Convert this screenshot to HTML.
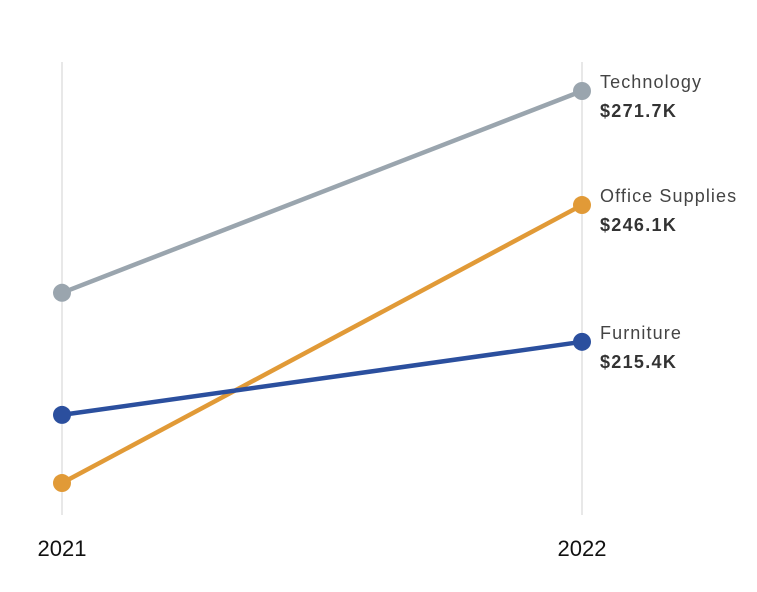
<!DOCTYPE html>
<html><head><meta charset="utf-8"><style>
body{margin:0;background:#fff;}
svg{display:block;font-family:"Liberation Sans",sans-serif;}
</style></head><body>
<svg id="chart" width="757" height="592"></svg>
<script>
const categories = ["Technology","Office Supplies","Furniture"];
const years = ["2021","2022"];
const values2021 = [226.4,183.7,199.0];
const values2022 = [271.7,246.1,215.4];
const labels2022 = ["$271.7K","$246.1K","$215.4K"];
const colors = ["#9aa5ae","#e19a37","#2b4f9e"];

const NS="http://www.w3.org/2000/svg";
const svg=document.getElementById('chart');
const xPos=i=>62+i*520;
const y=v=>91+(271.7-v)*4.455;
function mk(t,a){const e=document.createElementNS(NS,t);for(const k in a)e.setAttribute(k,a[k]);svg.appendChild(e);return e;}
years.forEach((yr,i)=>{
  const l=mk('line',{x1:xPos(i),x2:xPos(i),y1:62,y2:515,stroke:'#d0d0d0','stroke-width':1});
  
  
  const t=mk('text',{x:xPos(i),y:556,'text-anchor':'middle','font-size':22,fill:'#111'});
  t.textContent=yr;
  
  
});
categories.forEach((c,i)=>{
  const slug=c.toLowerCase().replace(/\s+/g,'-');
  const ln=mk('line',{x1:xPos(0),y1:y(values2021[i]),x2:xPos(1),y2:y(values2022[i]),stroke:colors[i],'stroke-width':4.5});
  
  
  [values2021[i],values2022[i]].forEach((v,j)=>{
    const p=mk('circle',{cx:xPos(j),cy:y(v),r:9,fill:colors[i]});
    
    
  });
  const yy=y(values2022[i]);
  const n=mk('text',{x:600,y:yy-3,'font-size':18,'letter-spacing':'1.1',fill:'#444'});
  n.textContent=c;
  
  
  const v=mk('text',{x:600,y:yy+26,'font-size':18,'letter-spacing':'1.3','font-weight':'bold',fill:'#333'});
  v.textContent=labels2022[i];
  
  
});
</script>
</body></html>
